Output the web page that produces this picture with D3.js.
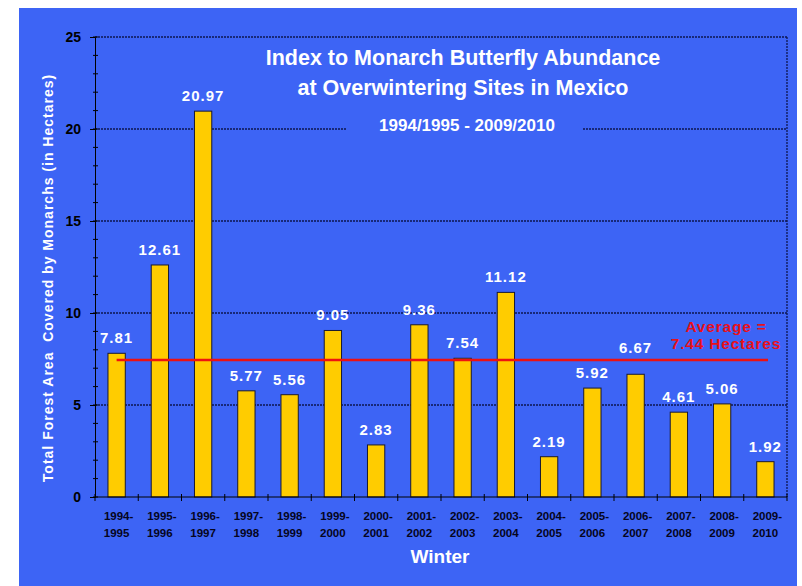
<!DOCTYPE html>
<html>
<head>
<meta charset="utf-8">
<script src="https://cdn.jsdelivr.net/npm/d3@7"></script>
<style>
  body { margin: 0; background: #fff; }
  text { font-family: "Liberation Sans", Arial, sans-serif; }
</style>
</head>
<body>
<div id="chart"></div>
<script>
// winters and index values (hectares)
const winters = ["1994-1995", "1995-1996", "1996-1997", "1997-1998", "1998-1999", "1999-2000",
  "2000-2001", "2001-2002", "2002-2003", "2003-2004", "2004-2005", "2005-2006",
  "2006-2007", "2007-2008", "2008-2009", "2009-2010"];
const hectares = [7.81, 12.61, 20.97, 5.77, 5.56, 9.05, 2.83, 9.36, 7.54, 11.12, 2.19, 5.92, 6.67, 4.61, 5.06, 1.92];
const average = 7.44;
const yTicks = [0, 5, 10, 15, 20, 25];

const W = 802, H = 586;
const margin = {top: 37, right: 15, bottom: 89, left: 95};
const width = W - margin.left - margin.right,
      height = H - margin.top - margin.bottom;

const gridColor = "#0d1650";

const svg = d3.select("#chart")
  .append("svg")
    .attr("width", W)
    .attr("height", H);

// blue panel
svg.append("rect")
  .attr("x", 19).attr("y", 8)
  .attr("width", 778).attr("height", H - 8)
  .attr("fill", "#3d64f5");

const g = svg.append("g")
  .attr("transform", `translate(${margin.left},${margin.top})`);

const x = d3.scaleBand()
  .domain(winters)
  .range([0, width])
  .paddingInner(0.6)
  .paddingOuter(0.3);

const y = d3.scaleLinear()
  .domain([0, 25])
  .range([height, 0]);

// grid lines + frame
g.selectAll(".grid")
  .data(yTicks.filter(d => d > 0 && d !== 20))
  .join("line")
    .attr("x1", 0).attr("x2", width)
    .attr("y1", d => y(d)).attr("y2", d => y(d))
    .attr("stroke", gridColor)
    .attr("stroke-width", 1.3)
    .attr("stroke-dasharray", "2,1");

// the 20 line is broken by the subtitle
[[0, 252], [488, width]].forEach(([a, b]) => {
  g.append("line")
    .attr("x1", a).attr("x2", b)
    .attr("y1", y(20)).attr("y2", y(20))
    .attr("stroke", gridColor)
    .attr("stroke-width", 1.3)
    .attr("stroke-dasharray", "2,1");
});

g.append("line")
  .attr("x1", width).attr("x2", width)
  .attr("y1", 0).attr("y2", height)
  .attr("stroke", gridColor)
  .attr("stroke-width", 1.3)
  .attr("stroke-dasharray", "2,1");

// y axis with minor ticks
const yAxis = g.append("g")
  .call(d3.axisLeft(y).tickValues(yTicks).tickSize(5).tickPadding(9));
yAxis.select(".domain").attr("stroke", "#000");
yAxis.selectAll("text")
  .attr("font-size", 14).attr("font-weight", "bold").attr("fill", "#000")
  .attr("font-family", "Liberation Sans, Arial, sans-serif");

g.append("g")
  .selectAll("line")
  .data(d3.range(0, 26))
  .join("line")
    .attr("x1", -2).attr("x2", 3)
    .attr("y1", d => y(d)).attr("y2", d => y(d))
    .attr("stroke", "#000");

// bars
g.selectAll(".bar")
  .data(hectares)
  .join("rect")
    .attr("x", (d, i) => x(winters[i]))
    .attr("y", d => y(d))
    .attr("width", x.bandwidth())
    .attr("height", d => height - y(d))
    .attr("fill", "#ffcc00")
    .attr("stroke", "#1a1a30")
    .attr("stroke-width", 1);

// average line
g.append("line")
  .attr("x1", x(winters[0]) + x.bandwidth() / 2)
  .attr("x2", 673)
  .attr("y1", y(average)).attr("y2", y(average))
  .attr("stroke", "#ee1111")
  .attr("stroke-width", 2.5);

// value labels (lifted above the average line when they would sit on it)
const labelY = d => {
  const ly = y(d) - 10;
  return (ly > y(average) - 4 && ly < y(average) + 14) ? y(average) - 7 : ly;
};
g.selectAll(".val")
  .data(hectares)
  .join("text")
    .attr("x", (d, i) => x(winters[i]) + x.bandwidth() / 2)
    .attr("y", labelY)
    .attr("text-anchor", "middle")
    .attr("fill", "#fff")
    .attr("font-size", 15)
    .attr("font-weight", "bold")
    .attr("letter-spacing", 1)
    .text(d => d.toFixed(2));

// x axis
const xAxis = g.append("g")
  .attr("transform", `translate(0,${height})`);
xAxis.append("line")
  .attr("x1", 0).attr("x2", width)
  .attr("stroke", "#000");
xAxis.selectAll(".tk")
  .data(d3.range(0, winters.length + 1))
  .join("line")
    .attr("x1", i => i * (width / winters.length))
    .attr("x2", i => i * (width / winters.length))
    .attr("y1", -3).attr("y2", 4)
    .attr("stroke", "#000");

const lab = xAxis.selectAll(".lab")
  .data(winters)
  .join("text")
    .attr("x", d => x(d) + x.bandwidth() / 2)
    .attr("y", 23)
    .attr("text-anchor", "middle")
    .attr("font-family", "Liberation Sans Narrow, Arial Narrow, sans-serif")
    .attr("font-size", 11.5)
    .attr("font-weight", "bold")
    .attr("fill", "#050520");
lab.append("tspan")
  .attr("x", d => x(d) + x.bandwidth() / 2 + 2)
  .text(d => d.split("-")[0] + "-");
lab.append("tspan")
  .attr("x", d => x(d) + x.bandwidth() / 2)
  .attr("dy", 17)
  .text(d => d.split("-")[1]);

const avgText = g.append("text")
  .attr("x", 631)
  .attr("y", y(average) - 28)
  .attr("text-anchor", "middle")
  .attr("fill", "#e8101a")
  .attr("font-size", 15.5)
  .attr("font-weight", "bold")
  .attr("letter-spacing", 0.8);
avgText.append("tspan").text("Average =");
avgText.append("tspan")
  .attr("x", 631).attr("dy", 17)
  .text(average.toFixed(2) + " Hectares");

// titles
svg.append("text")
  .attr("x", 463).attr("y", 65)
  .attr("text-anchor", "middle")
  .attr("fill", "#fff").attr("font-size", 21.5).attr("font-weight", "bold")
  .text("Index to Monarch Butterfly Abundance");
svg.append("text")
  .attr("x", 463).attr("y", 95)
  .attr("text-anchor", "middle")
  .attr("fill", "#fff").attr("font-size", 21.5).attr("font-weight", "bold")
  .text("at Overwintering Sites in Mexico");
svg.append("text")
  .attr("x", 467).attr("y", 131)
  .attr("text-anchor", "middle")
  .attr("fill", "#fff").attr("font-size", 17).attr("font-weight", "bold")
  .text("1994/1995 - 2009/2010");

svg.append("text")
  .attr("x", 440).attr("y", 563)
  .attr("text-anchor", "middle")
  .attr("fill", "#fff").attr("font-size", 19).attr("font-weight", "bold")
  .text("Winter");

svg.append("text")
  .attr("transform", "translate(53,278) rotate(-90)")
  .attr("text-anchor", "middle")
  .attr("fill", "#fff").attr("font-size", 14).attr("font-weight", "bold")
  .attr("letter-spacing", 1)
  .attr("xml:space", "preserve")
  .text("Total Forest Area  Covered by Monarchs (in Hectares)");
</script>
</body>
</html>
